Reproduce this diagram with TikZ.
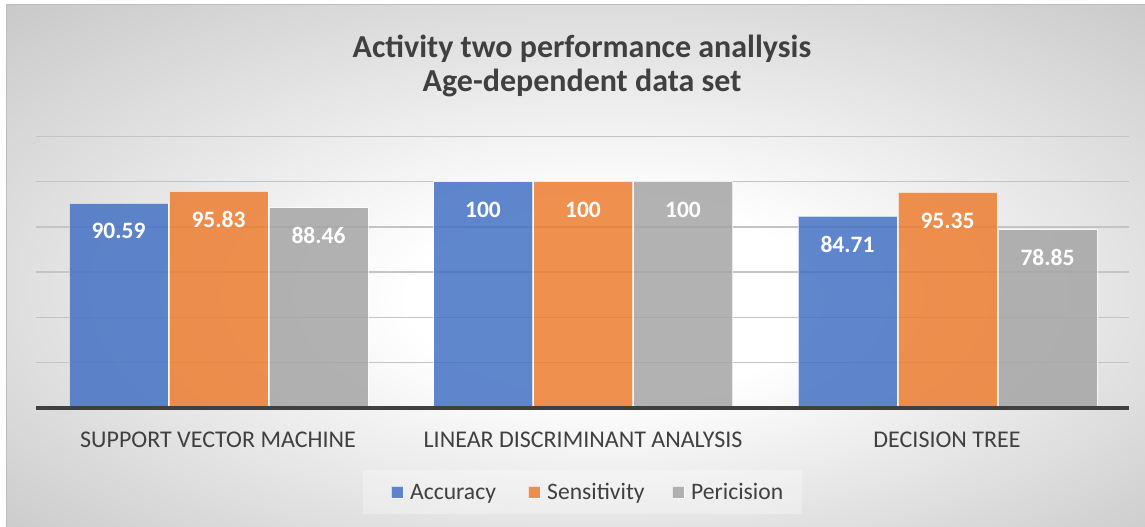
\documentclass[tikz,border=0pt]{standalone}
\usepackage{fontspec}
\setmainfont{Carlito}
\definecolor{accblue}{HTML}{4472C4}
\definecolor{sensorange}{HTML}{ED7D31}
\definecolor{precgray}{HTML}{A5A5A5}
\definecolor{inktext}{HTML}{404040}
\definecolor{bgedge}{HTML}{C6C6C6}
\definecolor{gridgray}{HTML}{C4C4C4}
\definecolor{framegray}{HTML}{BDBDBD}
\pgfdeclareradialshading{chartbg}{\pgfpoint{2bp}{-4bp}}{%
  color(0bp)=(white); color(9bp)=(white); color(38bp)=(bgedge); color(50bp)=(bgedge)}
\tikzset{
  barbox/.style={draw=white, draw opacity=0.7, line width=0.9pt, fill opacity=0.85,
    inner sep=0pt, outer sep=0pt, minimum width=99pt, anchor=south west},
  valtext/.style={text=white, font=\fontsize{23.5}{27}\selectfont\bfseries, anchor=base,
    inner sep=0pt},
  cattext/.style={text=inktext, font=\fontsize{24}{28}\selectfont, anchor=base, inner sep=0pt},
  titletext/.style={text=inktext, font=\fontsize{32}{36}\selectfont\bfseries, anchor=base,
    inner sep=0pt},
  legtext/.style={text=inktext, font=\fontsize{23.6}{27}\selectfont, anchor=base west, inner sep=0pt},
  legkey/.style={inner sep=0pt, minimum size=12pt, draw=white, draw opacity=0.7,
    line width=0.6pt, fill opacity=0.85},
}
\begin{document}
\begin{tikzpicture}[x=1pt,y=-1pt]
\useasboundingbox (0,0) rectangle (1145,527);
\fill[white] (0,0) rectangle (1145,527);
% chart area with radial background
\shade[shading=chartbg] (6,5) rectangle (1145,527);
\draw[framegray, line width=1pt] (6,527) -- (6,5) -- (1145,5);

% title
\node[titletext] (title1) at (582,57) {Activity two performance anallysis};
\node[titletext] (title2) at (582,92) {Age-dependent data set};

% horizontal gridlines every 20 units (2.263 px per unit)
\foreach \k in {1,...,6}
  \draw[gridgray, line width=1.4pt] (36,{408-45.27*\k}) -- (1129,{408-45.27*\k});

% bars and value labels
\foreach \g/\a/\s/\p in {0/90.59/95.83/88.46, 1/100/100/100, 2/84.71/95.35/78.85}{
  \pgfmathsetmacro{\xl}{69+364.5*\g}
  \node[barbox, fill=accblue, minimum height={2.263*\a pt}] (acc\g) at (\xl,408) {};
  \node[barbox, fill=sensorange, minimum height={2.263*\s pt}] (sen\g) at (\xl+100,408) {};
  \node[barbox, fill=precgray, minimum height={2.263*\p pt}] (pre\g) at (\xl+200,408) {};
  \node[valtext] (accv\g) at ([yshift=-36pt]acc\g.north) {\a};
  \node[valtext] (senv\g) at ([yshift=-36pt]sen\g.north) {\s};
  \node[valtext] (prev\g) at ([yshift=-36pt]pre\g.north) {\p};
}

% horizontal axis
\draw[inktext, line width=4pt] (36,408) -- (1129,408);

% category labels
\node[cattext] (cat0) at (218,447) {SUPPORT VECTOR MACHINE};
\node[cattext] (cat1) at (583,447) {LINEAR DISCRIMINANT ANALYSIS};
\node[cattext] (cat2) at (947,447) {DECISION TREE};

% legend
\fill[white, opacity=0.3] (363,470) rectangle (802,514);
\node[legkey, fill=accblue] (k1) at (397,492) {};
\node[legtext] (l1) at (410,499) {Accuracy};
\node[legkey, fill=sensorange] (k2) at (534,492) {};
\node[legtext] (l2) at (547,499) {Sensitivity};
\node[legkey, fill=precgray] (k3) at (678,492) {};
\node[legtext] (l3) at (691,499) {Pericision};
\end{tikzpicture}
\end{document}
